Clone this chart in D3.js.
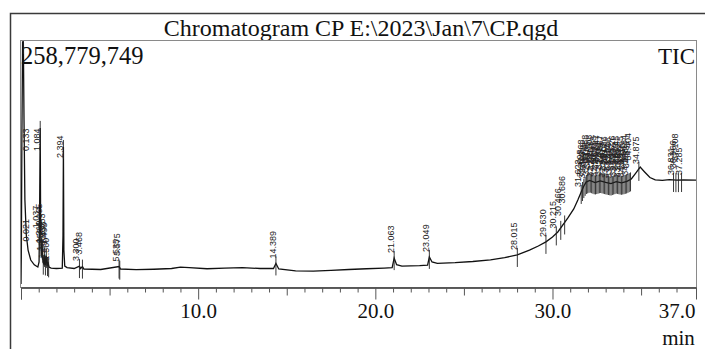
<!DOCTYPE html>
<html>
<head>
<meta charset="utf-8">
<script src="https://cdn.jsdelivr.net/npm/d3@7"></script>
<style>
  body { margin: 0; background: #fff; }
  text { font-family: "Liberation Serif", "Times New Roman", serif; }
</style>
</head>
<body>
<div id="chart"></div>
<script>
(function () {

  // Chromatogram trace (retention time in min, signal in % of full scale)
  const times = [0.00, 0.02, 0.05, 0.09, 0.133, 0.17, 0.22, 0.30, 0.40, 0.55, 0.75, 0.95,
    1.02, 1.05, 1.084, 1.11, 1.14, 1.165, 1.19, 1.21, 1.24, 1.29, 1.333, 1.37, 1.433, 1.47,
    1.52, 1.58, 1.70, 2.00, 2.33, 2.37, 2.394, 2.42, 2.47, 2.60, 3.00, 3.30, 3.36, 3.47, 3.55,
    4.50, 5.535, 5.62, 6.50, 7.50, 8.50, 9.00, 9.50, 10.50, 11.50, 12.50, 13.50, 14.25,
    14.389, 14.55, 15.50, 16.50, 17.50, 18.50, 19.50, 20.50, 20.95, 21.063, 21.20, 21.50,
    22.50, 22.95, 23.049, 23.20, 23.50, 24.50, 25.50, 26.50, 27.30, 28.015, 28.70, 29.20,
    29.63, 30.00, 30.30, 30.87, 31.20, 31.43, 31.62, 31.77, 31.90, 32.10, 32.40, 32.70,
    33.00, 33.30, 33.60, 33.90, 34.20, 34.45, 34.70, 34.95, 35.20, 35.50, 35.80, 36.20,
    36.60, 37.00, 37.40, 38.10]
  const signal = [0, 14, 60, 100, 100, 67.8, 34.7, 20.2, 14.0, 9.9, 7.9, 7.0,
    9.1, 30, 64.5, 22.3, 12.0, 16.1, 10.7, 14.9, 9.1, 8.3, 12.0, 7.9, 11.6, 7.4,
    9.1, 7.0, 6.6, 6.4, 6.6, 20, 56.6, 14, 7.4, 6.8, 6.4, 7.4, 6.4, 7.2, 6.2,
    6.0, 7.2, 6.2, 5.9, 6.1, 6.4, 7.0, 6.8, 6.3, 6.6, 6.8, 6.4, 6.4,
    8.5, 6.2, 5.4, 5.3, 5.6, 6.0, 6.3, 6.6, 6.8, 10.7, 8.0, 7.4,
    7.6, 7.8, 11.2, 9.1, 8.5, 8.8, 9.3, 10.0, 10.9, 12.0, 14.0, 15.7,
    17.4, 19.4, 21.5, 27.3, 31.0, 34.7, 38.0, 40.5, 42.1, 42.8, 41.9, 42.6,
    42.0, 41.5, 42.3, 41.8, 42.4, 43.4, 45.8, 48.3, 46.3, 44.0, 43.0, 42.8,
    43.1, 42.9, 43.0, 42.9]

  // Peak retention times that carry a label
  const peakTimes = [0.021, 0.133, 1.037, 1.084, 1.165, 1.210, 1.258, 1.333, 1.380, 1.433,
    1.495, 1.560, 2.394, 3.300, 3.468, 5.535, 5.575, 14.389, 21.063, 23.049, 28.015,
    29.630, 30.215, 30.466, 30.686,
    31.622, 31.695, 31.768, 31.843, 31.915, 31.988, 32.061, 32.135, 32.208, 32.281,
    32.354, 32.428, 32.501, 32.574, 32.647, 32.720, 32.794, 32.867, 32.940, 33.013,
    33.086, 33.160, 33.233, 33.306, 33.379, 33.452, 33.526, 33.599, 33.672, 33.745,
    33.818, 33.892, 33.965, 34.038, 34.111, 34.184, 34.258, 34.331, 34.404,
    34.875, 36.831, 36.966, 37.108, 37.285]

  const tickLabels = [10, 20, 30, 37]
  const titleText = "Chromatogram CP E:\\2023\\Jan\\7\\CP.qgd"
  const maxCount = "258,779,749"
  const traceName = "TIC"

  const W = 705, H = 349
  const box = { left: 20, top: 40, right: 696, bottom: 287 }

  const svg = d3.select("#chart").append("svg")
      .attr("width", W)
      .attr("height", H)

  const x = d3.scaleLinear().domain([0, 38.1]).range([21, 696])
  const y = d3.scaleLinear().domain([0, 100]).range([284, 42])

  // Outer frame (open to right and bottom)
  svg.append("path")
    .attr("d", `M10.5,${H} V13.5 H${W}`)
    .attr("fill", "none")
    .attr("stroke", "#3a3a3a")
    .attr("stroke-width", 1.5)

  // Title
  svg.append("text")
    .attr("x", 361)
    .attr("y", 36)
    .attr("text-anchor", "middle")
    .style("font-size", "24px")
    .attr("fill", "#111")
    .text(titleText)

  // Plot box
  svg.append("rect")
    .attr("x", box.left + 0.5)
    .attr("y", box.top + 0.5)
    .attr("width", box.right - box.left)
    .attr("height", box.bottom - box.top)
    .attr("fill", "none")
    .attr("stroke", "#8a8a8a")
    .attr("stroke-width", 1)

  svg.append("text")
    .attr("x", box.left + 1)
    .attr("y", 64)
    .style("font-size", "24.5px")
    .attr("fill", "#111")
    .text(maxCount)

  svg.append("text")
    .attr("x", box.right - 1)
    .attr("y", 64)
    .attr("text-anchor", "end")
    .style("font-size", "23px")
    .attr("fill", "#111")
    .text(traceName)

  // Clip to the plot box
  svg.append("clipPath").attr("id", "clip")
    .append("rect")
    .attr("x", box.left + 1).attr("y", box.top + 1)
    .attr("width", box.right - box.left - 1).attr("height", box.bottom - box.top - 1)

  const plot = svg.append("g").attr("clip-path", "url(#clip)")

  const points = times.map((t, i) => [t, signal[i]])
  const line = d3.line()
    .x(d => x(d[0]))
    .y(d => y(d[1]))

  plot.append("path")
    .datum(points)
    .attr("d", line)
    .attr("fill", "none")
    .attr("stroke", "#111")
    .attr("stroke-width", 1.3)

  // Signal value at a given time (linear between trace points)
  const bis = d3.bisector(d => d).left
  function signalAt(t) {
    const i = Math.max(1, Math.min(times.length - 1, bis(times, t)))
    const t0 = times[i - 1], t1 = times[i]
    const k = (t - t0) / (t1 - t0)
    return signal[i - 1] + k * (signal[i] - signal[i - 1])
  }

  // Peak marks and labels
  let prevX = -100, level = 0
  peakTimes.forEach(t => {
    const px = x(t)
    const py = y(signalAt(t))
    level = (px - prevX < 5) ? (level + 1) % 3 : 0
    prevX = px

    plot.append("line")
      .attr("x1", px).attr("x2", px)
      .attr("y1", py - 7).attr("y2", py + 12)
      .attr("stroke", "#222")
      .attr("stroke-width", 0.9)

    const lx = Math.max(px, 29)
    const ly = Math.max(py - 5, 158) - level * 7
    plot.append("text")
      .attr("transform", `translate(${lx},${ly}) rotate(-90)`)
      .style("font-family", "'Liberation Sans Narrow', 'Liberation Sans', sans-serif")
      .style("font-size", "9px")
      .attr("fill", "#222")
      .text(t.toFixed(3))
  })

  // X axis: minor ticks every minute, longer every 5, labels
  const axisG = svg.append("g").attr("transform", `translate(0,${box.bottom + 0.5})`)
  const minor = d3.range(0, 38, 1)
  axisG.append("g")
    .call(d3.axisBottom(x).tickValues(minor.filter(d => d % 5 !== 0)).tickSize(5).tickFormat(""))
  axisG.append("g")
    .call(d3.axisBottom(x).tickValues(minor.filter(d => d % 5 === 0 && d % 10 !== 0)).tickSize(8).tickFormat(""))
  axisG.append("g")
    .call(d3.axisBottom(x).tickValues([0, 10, 20, 30]).tickSize(12).tickFormat(""))
  axisG.append("g")
    .call(d3.axisBottom(x).tickValues(tickLabels).tickSize(0).tickPadding(16)
      .tickFormat(d3.format(".1f")))

  axisG.selectAll(".domain").attr("stroke", "#555")
  axisG.selectAll(".tick line").attr("stroke", "#555")
  axisG.selectAll(".tick text")
    .style("font-family", "'Liberation Serif', serif")
    .style("font-size", "21px")
    .attr("fill", "#111")

  svg.append("text")
    .attr("x", x(37) + 2)
    .attr("y", 345)
    .attr("text-anchor", "middle")
    .style("font-size", "21px")
    .attr("fill", "#111")
    .text("min")

})();
</script>
</body>
</html>
